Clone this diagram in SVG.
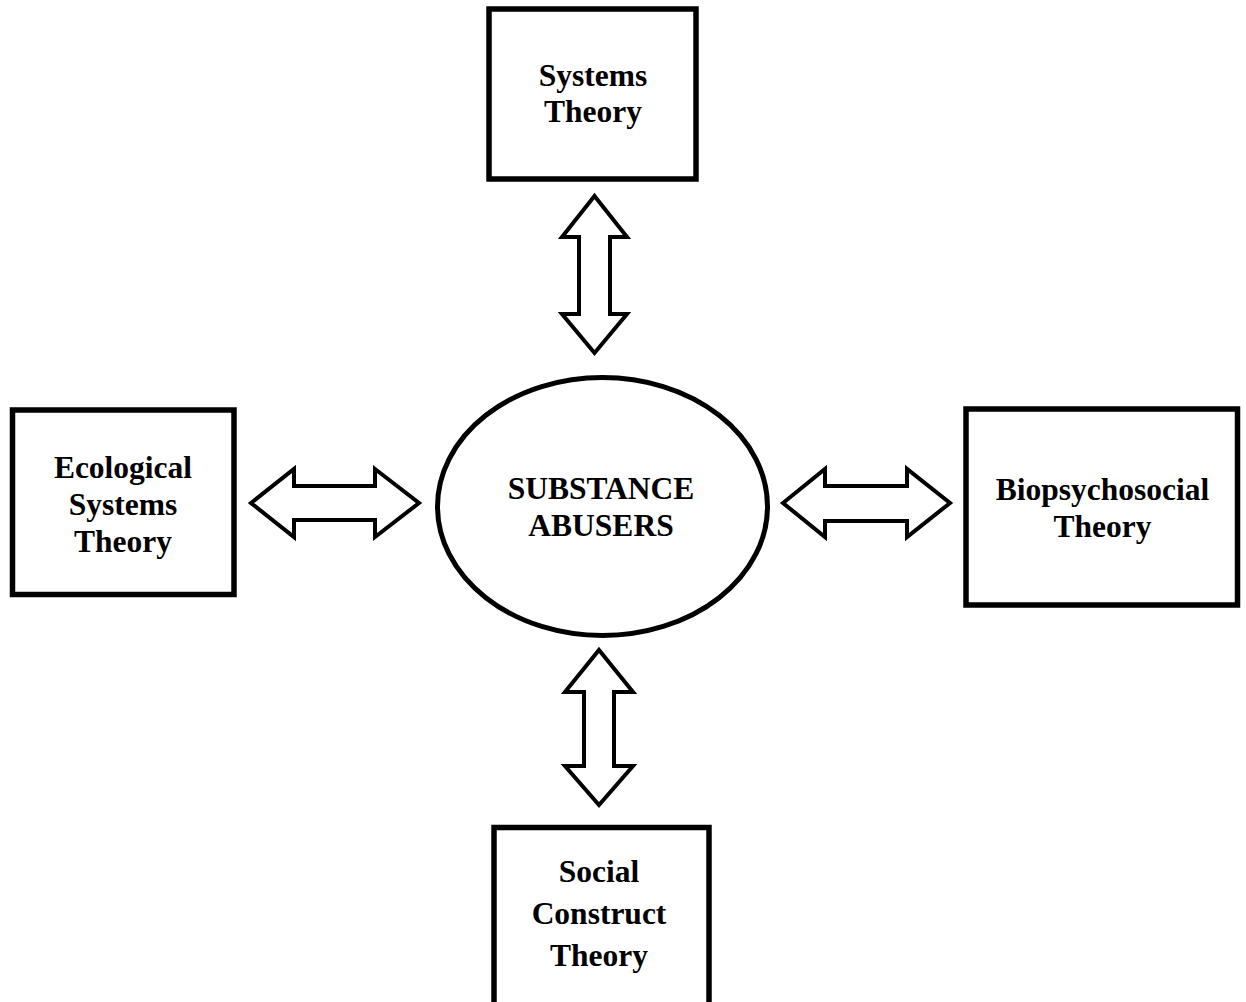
<svg xmlns="http://www.w3.org/2000/svg" width="1246" height="1002" viewBox="0 0 1246 1002">
<style>
.box{fill:#fff;stroke:#000;stroke-width:5.5}
.ell{fill:#fff;stroke:#000;stroke-width:5}
.arr{fill:#fff;stroke:#000;stroke-width:4;stroke-linejoin:miter;stroke-miterlimit:10}
.t{font-family:"Liberation Serif","Times New Roman",serif;font-weight:bold;font-size:31.5px;text-anchor:middle;fill:#000}
</style>
<rect width="1246" height="1002" fill="#fff"/>
<g id="connectors">
<polygon class="arr" points="594.5,196 627,237 610,237 610,314 627,314 594.5,353 562,314 579,314 579,237 562,237"/>
<polygon class="arr" points="599,650 633,692 614,692 614,766 633,766 599,805 565,766 584,766 584,692 565,692"/>
<polygon class="arr" points="251,503 294,469 294,486 375,486 375,469 419,503 375,537 375,520 294,520 294,537"/>
<polygon class="arr" points="783,503 825,469 825,486 907,486 907,469 950,503 907,537 907,521 825,521 825,537"/>
</g>
<g id="systems-theory">
<rect class="box" x="489" y="9" width="207" height="170"/>
<text class="t" x="593" y="86">Systems</text>
<text class="t" x="593" y="122">Theory</text>
</g>
<g id="substance-abusers">
<ellipse class="ell" cx="602.5" cy="506.5" rx="165" ry="129"/>
<text class="t" x="601" y="499">SUBSTANCE</text>
<text class="t" x="601" y="536">ABUSERS</text>
</g>
<g id="ecological-systems-theory">
<rect class="box" x="12.5" y="410" width="221.5" height="184.5"/>
<text class="t" x="123" y="478">Ecological</text>
<text class="t" x="123" y="515">Systems</text>
<text class="t" x="123" y="552">Theory</text>
</g>
<g id="biopsychosocial-theory">
<rect class="box" x="966" y="409" width="271.5" height="196"/>
<text class="t" x="1102.5" y="500">Biopsychosocial</text>
<text class="t" x="1102.5" y="537">Theory</text>
</g>
<g id="social-construct-theory">
<rect class="box" x="494" y="827.5" width="215" height="190"/>
<text class="t" x="599" y="882">Social</text>
<text class="t" x="599" y="924">Construct</text>
<text class="t" x="599" y="966">Theory</text>
</g>
</svg>
